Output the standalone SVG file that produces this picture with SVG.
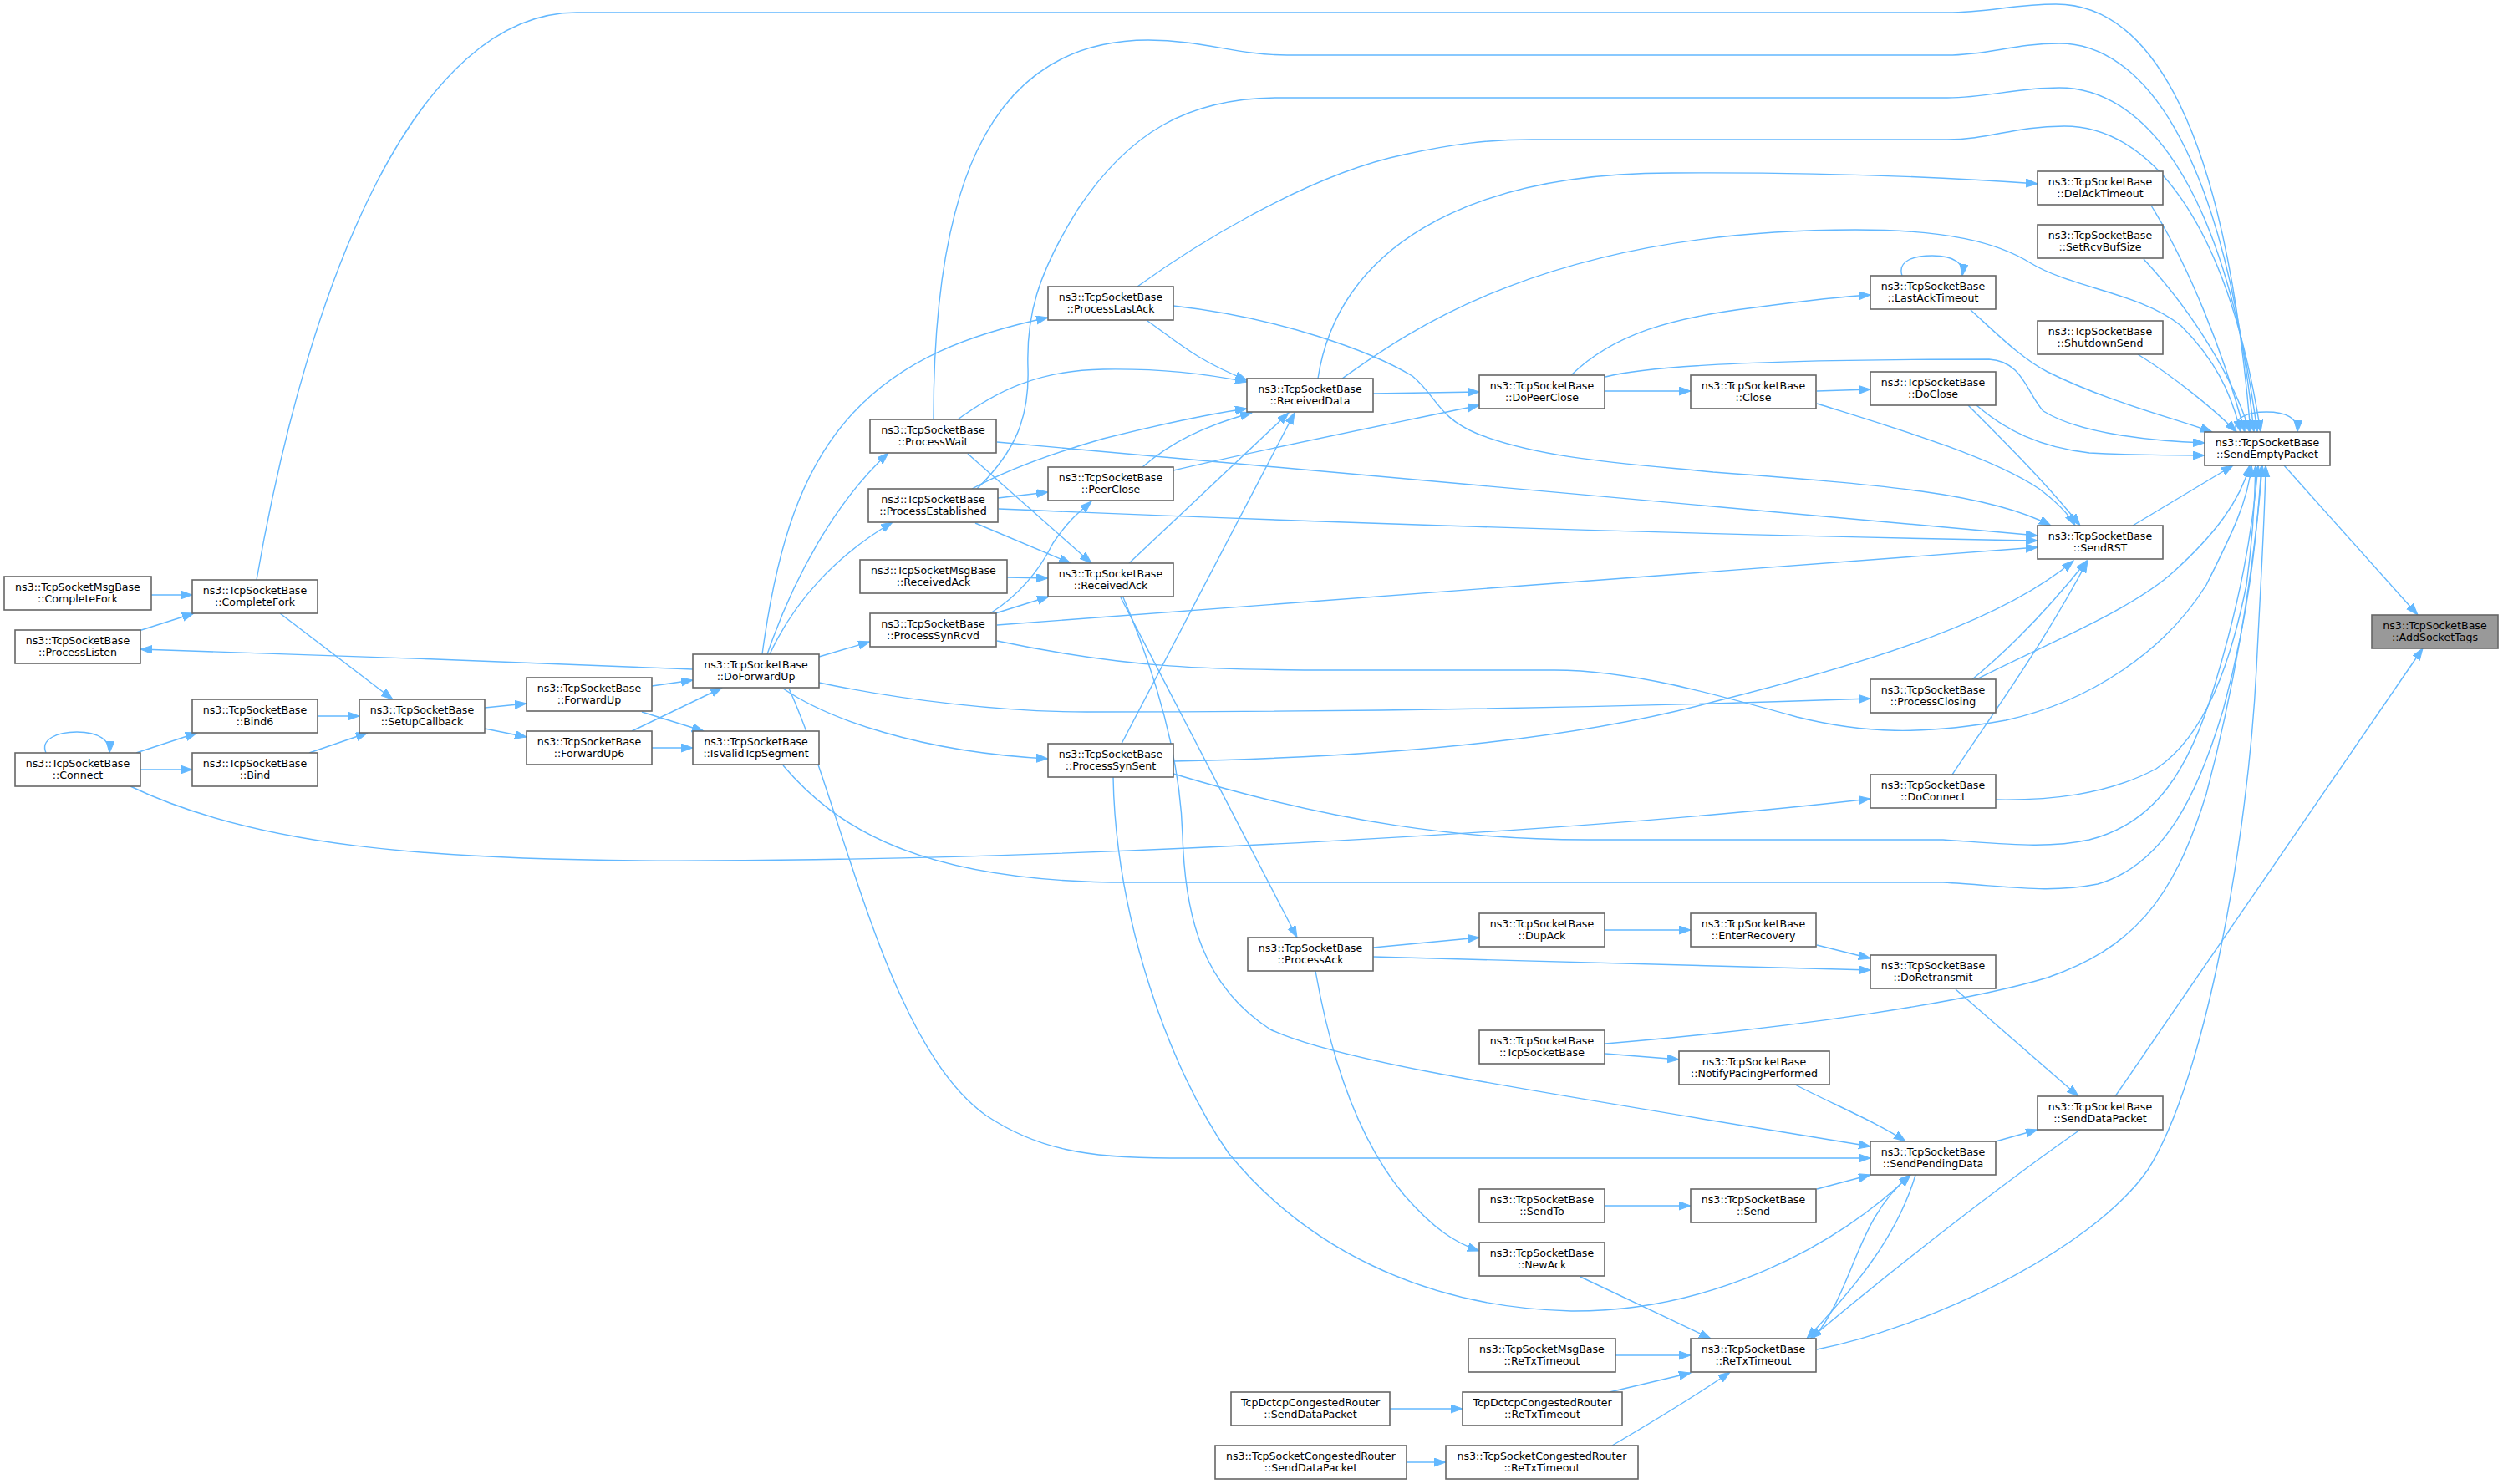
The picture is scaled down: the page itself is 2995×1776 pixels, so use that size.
<svg xmlns="http://www.w3.org/2000/svg" width="2995" height="1776" viewBox="0 0 2995 1776">
<style>
.node rect{fill:#ffffff;stroke:#666666;stroke-width:1.6}
.root rect{fill:#999999;stroke:#666666;stroke-width:1.6}
text{font-family:"DejaVu Sans","Liberation Sans",sans-serif;font-size:12.6px;text-anchor:middle;fill:#000000}
.e{fill:none;stroke:#63b8ff;stroke-width:1.4;marker-end:url(#a)}
</style>
<defs>
<marker id="a" markerUnits="userSpaceOnUse" markerWidth="16" markerHeight="12" refX="14" refY="5" orient="auto">
<path d="M0,0 L14,5 L0,10 z" fill="#63b8ff" stroke="#63b8ff" stroke-width="1"/>
</marker>
</defs>
<rect width="2995" height="1776" fill="#ffffff"/>
<g id="edges">
<path class="e" d="M181,712 L230,712"/>
<path class="e" d="M166,755 L232,734"/>
<path class="e" d="M335,734 L470,837"/>
<path class="e" d="M307,694 C370,330 500,15 690,15 L2330,15 C2380,15 2410,5 2460,5 C2560,5 2660,120 2693,517"/>
<path class="e" d="M829,801 C600,791 400,785 168,777"/>
<path class="e" d="M55,901 C48,885 68,876 92,876 C118,876 132,886 131,901"/>
<path class="e" d="M163,901 L236,877"/>
<path class="e" d="M168,921 L230,921"/>
<path class="e" d="M380,857 L430,857"/>
<path class="e" d="M370,901 L440,877"/>
<path class="e" d="M580,847 L630,842"/>
<path class="e" d="M580,872 L630,882"/>
<path class="e" d="M780,821 L829,814"/>
<path class="e" d="M756,875 L864,823"/>
<path class="e" d="M768,852 L842,875"/>
<path class="e" d="M780,895 L829,895"/>
<path class="e" d="M156,941 C300,1010 500,1032 850,1030 C1300,1028 1900,995 2238,956"/>
<path class="e" d="M937,916 C1000,990 1100,1056 1350,1056 L2325,1056 C2400,1060 2450,1070 2510,1058 C2590,1035 2630,950 2660,850 C2690,740 2700,650 2706,557"/>
<path class="e" d="M918,783 C950,690 1000,600 1063,542"/>
<path class="e" d="M921,783 C950,720 1000,665 1068,625"/>
<path class="e" d="M980,786 L1041,768"/>
<path class="e" d="M937,824 C990,860 1100,900 1254,908"/>
<path class="e" d="M980,817 C1080,838 1200,852 1300,852 C1600,852 1900,848 2238,836"/>
<path class="e" d="M912,783 C930,650 960,560 1020,495 C1080,430 1160,400 1254,380"/>
<path class="e" d="M944,824 C1010,970 1060,1250 1180,1335 C1240,1375 1300,1386 1400,1386 L2238,1386"/>
<path class="e" d="M1117,502 C1117,250 1170,48 1374,48 C1440,48 1480,66 1540,66 L2330,66 C2380,66 2410,52 2464,52 C2560,52 2660,170 2697,517"/>
<path class="e" d="M1169,585 C1215,540 1232,500 1230,440 C1228,380 1240,330 1290,250 C1350,160 1420,117 1530,117 L2330,117 C2380,117 2410,105 2464,105 C2560,105 2660,210 2701,517"/>
<path class="e" d="M1361,343 C1420,300 1560,210 1680,185 C1740,172 1780,167 1833,167 L2330,167 C2380,167 2410,151 2470,151 C2570,151 2665,260 2705,517"/>
<path class="e" d="M1606,453 C1680,400 1850,275 2220,275 C2330,275 2390,290 2430,315 C2480,345 2560,350 2610,390 C2650,430 2670,470 2681,517"/>
<path class="e" d="M1577,453 C1600,300 1750,207 2000,207 C2150,206 2300,210 2438,220"/>
<path class="e" d="M1643,471 L1770,469"/>
<path class="e" d="M1373,384 C1410,410 1430,430 1492,455"/>
<path class="e" d="M1146,502 C1190,470 1240,443 1320,442 C1390,441 1440,447 1492,457"/>
<path class="e" d="M1163,585 C1200,565 1250,545 1320,525 C1400,505 1450,495 1492,489"/>
<path class="e" d="M1367,559 C1400,530 1440,510 1498,494"/>
<path class="e" d="M1351,674 L1542,494"/>
<path class="e" d="M1342,890 L1549,494"/>
<path class="e" d="M1194,596 L1254,589"/>
<path class="e" d="M1185,734 C1215,715 1240,690 1260,650 C1280,620 1295,610 1306,600"/>
<path class="e" d="M1404,563 C1500,540 1650,510 1770,485"/>
<path class="e" d="M1158,543 L1306,674"/>
<path class="e" d="M1167,626 L1281,674"/>
<path class="e" d="M1205,691 L1254,692"/>
<path class="e" d="M1191,734 L1255,714"/>
<path class="e" d="M1341,715 L1552,1122"/>
<path class="e" d="M1344,715 C1380,800 1412,900 1415,1000 C1418,1100 1440,1180 1520,1232 C1600,1270 1800,1300 2238,1372"/>
<path class="e" d="M1332,930 C1335,1100 1400,1280 1470,1380 C1560,1490 1700,1565 1880,1569 C2050,1570 2200,1490 2286,1406"/>
<path class="e" d="M1643,1134 L1770,1122"/>
<path class="e" d="M1643,1145 C1900,1152 2100,1158 2238,1161"/>
<path class="e" d="M1921,1113 L2023,1113"/>
<path class="e" d="M2174,1131 L2238,1147"/>
<path class="e" d="M2340,1184 L2487,1312"/>
<path class="e" d="M1921,1261 L2009,1268"/>
<path class="e" d="M1921,1249 C2150,1230 2350,1200 2450,1170 C2550,1135 2600,1080 2640,950 C2680,800 2700,650 2707,557"/>
<path class="e" d="M2148,1298 C2190,1320 2250,1345 2280,1366"/>
<path class="e" d="M2388,1366 L2438,1352"/>
<path class="e" d="M1920,1443 L2023,1443"/>
<path class="e" d="M2174,1423 L2238,1406"/>
<path class="e" d="M1891,1528 L2047,1602"/>
<path class="e" d="M1574,1162 C1595,1280 1630,1370 1680,1430 C1715,1470 1740,1487 1770,1497"/>
<path class="e" d="M2170,1602 C2220,1540 2220,1460 2286,1406"/>
<path class="e" d="M2292,1406 C2270,1480 2220,1540 2162,1602"/>
<path class="e" d="M2489,1352 C2420,1400 2300,1490 2166,1602"/>
<path class="e" d="M2174,1615 C2300,1590 2500,1500 2570,1400 C2640,1290 2690,1000 2700,800 C2706,680 2710,620 2711,557"/>
<path class="e" d="M1933,1622 L2023,1622"/>
<path class="e" d="M1926,1666 L2023,1643"/>
<path class="e" d="M1663,1686 L1750,1686"/>
<path class="e" d="M1929,1730 C1980,1700 2030,1670 2070,1642"/>
<path class="e" d="M1683,1750 L1730,1750"/>
<path class="e" d="M2531,1312 L2899,776"/>
<path class="e" d="M2733,557 L2893,736"/>
<path class="e" d="M1921,468 L2023,468"/>
<path class="e" d="M1921,451 C1970,438 2100,430 2380,430 C2420,432 2425,470 2445,492 C2490,520 2580,528 2638,530"/>
<path class="e" d="M1880,449 C1930,400 2000,380 2100,368 C2160,360 2200,355 2238,353"/>
<path class="e" d="M2276,330 C2270,312 2290,306 2312,306 C2340,306 2350,316 2348,330"/>
<path class="e" d="M2358,371 C2390,400 2420,430 2450,445 C2520,480 2600,500 2647,517"/>
<path class="e" d="M2574,246 C2620,320 2660,420 2686,517"/>
<path class="e" d="M2565,310 C2630,380 2675,460 2692,517"/>
<path class="e" d="M2558,424 C2600,450 2650,490 2676,517"/>
<path class="e" d="M2174,468 L2238,466"/>
<path class="e" d="M2174,483 C2260,510 2380,545 2440,585 C2460,600 2475,615 2483,629"/>
<path class="e" d="M2365,485 C2400,515 2440,535 2500,542 C2560,545 2600,545 2638,545"/>
<path class="e" d="M2355,485 C2400,530 2450,580 2489,629"/>
<path class="e" d="M2676,517 C2670,500 2690,493 2712,493 C2735,493 2750,500 2749,517"/>
<path class="e" d="M2552,629 L2672,557"/>
<path class="e" d="M1193,529 L2438,641"/>
<path class="e" d="M1195,609 C1500,622 2000,640 2438,647"/>
<path class="e" d="M1193,748 L2438,655"/>
<path class="e" d="M1404,366 C1530,380 1640,420 1690,450 C1720,475 1720,500 1770,520 C1850,550 1950,555 2050,565 C2250,580 2380,590 2454,629"/>
<path class="e" d="M1404,911 C1700,905 1900,880 2050,840 C2250,790 2400,740 2481,671"/>
<path class="e" d="M2360,813 C2400,780 2450,730 2497,671"/>
<path class="e" d="M2336,927 C2380,860 2440,780 2498,671"/>
<path class="e" d="M2365,813 C2450,770 2550,730 2600,685 C2650,640 2680,600 2692,557"/>
<path class="e" d="M2388,957 C2450,958 2520,952 2580,920 C2640,880 2670,790 2688,700 C2695,650 2698,600 2699,557"/>
<path class="e" d="M1193,767 C1350,800 1450,802 1600,802 L1860,802 C1950,802 2050,830 2150,858 C2230,878 2300,880 2400,862 C2500,840 2590,780 2640,700 C2670,640 2690,600 2694,557"/>
<path class="e" d="M1404,926 C1600,985 1750,1005 1900,1005 L2325,1005 C2400,1010 2450,1016 2500,1005 C2580,985 2620,920 2650,820 C2680,720 2695,640 2702,557"/>
</g>
<g id="n_msgCompleteFork" class="node"><rect x="5" y="690" width="176" height="40"/><text x="93" y="706.5">ns3::TcpSocketMsgBase</text><text x="93" y="720.5">::CompleteFork</text></g>
<g id="n_CompleteFork" class="node"><rect x="230" y="694" width="150" height="40"/><text x="305" y="710.5">ns3::TcpSocketBase</text><text x="305" y="724.5">::CompleteFork</text></g>
<g id="n_ProcessListen" class="node"><rect x="18" y="754" width="150" height="40"/><text x="93" y="770.5">ns3::TcpSocketBase</text><text x="93" y="784.5">::ProcessListen</text></g>
<g id="n_Connect" class="node"><rect x="18" y="901" width="150" height="40"/><text x="93" y="917.5">ns3::TcpSocketBase</text><text x="93" y="931.5">::Connect</text></g>
<g id="n_Bind6" class="node"><rect x="230" y="837" width="150" height="40"/><text x="305" y="853.5">ns3::TcpSocketBase</text><text x="305" y="867.5">::Bind6</text></g>
<g id="n_Bind" class="node"><rect x="230" y="901" width="150" height="40"/><text x="305" y="917.5">ns3::TcpSocketBase</text><text x="305" y="931.5">::Bind</text></g>
<g id="n_SetupCallback" class="node"><rect x="430" y="837" width="150" height="40"/><text x="505" y="853.5">ns3::TcpSocketBase</text><text x="505" y="867.5">::SetupCallback</text></g>
<g id="n_ForwardUp" class="node"><rect x="630" y="811" width="150" height="40"/><text x="705" y="827.5">ns3::TcpSocketBase</text><text x="705" y="841.5">::ForwardUp</text></g>
<g id="n_ForwardUp6" class="node"><rect x="630" y="875" width="150" height="40"/><text x="705" y="891.5">ns3::TcpSocketBase</text><text x="705" y="905.5">::ForwardUp6</text></g>
<g id="n_DoForwardUp" class="node"><rect x="829" y="783" width="151" height="40"/><text x="904.5" y="799.5">ns3::TcpSocketBase</text><text x="904.5" y="813.5">::DoForwardUp</text></g>
<g id="n_IsValidTcpSegment" class="node"><rect x="829" y="875" width="151" height="40"/><text x="904.5" y="891.5">ns3::TcpSocketBase</text><text x="904.5" y="905.5">::IsValidTcpSegment</text></g>
<g id="n_ProcessWait" class="node"><rect x="1041" y="502" width="151" height="40"/><text x="1116.5" y="518.5">ns3::TcpSocketBase</text><text x="1116.5" y="532.5">::ProcessWait</text></g>
<g id="n_ProcessEstablished" class="node"><rect x="1039" y="585" width="155" height="40"/><text x="1116.5" y="601.5">ns3::TcpSocketBase</text><text x="1116.5" y="615.5">::ProcessEstablished</text></g>
<g id="n_msgReceivedAck" class="node"><rect x="1029" y="670" width="176" height="40"/><text x="1117" y="686.5">ns3::TcpSocketMsgBase</text><text x="1117" y="700.5">::ReceivedAck</text></g>
<g id="n_ProcessSynRcvd" class="node"><rect x="1041" y="734" width="151" height="40"/><text x="1116.5" y="750.5">ns3::TcpSocketBase</text><text x="1116.5" y="764.5">::ProcessSynRcvd</text></g>
<g id="n_ProcessLastAck" class="node"><rect x="1254" y="343" width="150" height="40"/><text x="1329" y="359.5">ns3::TcpSocketBase</text><text x="1329" y="373.5">::ProcessLastAck</text></g>
<g id="n_PeerClose" class="node"><rect x="1254" y="559" width="150" height="40"/><text x="1329" y="575.5">ns3::TcpSocketBase</text><text x="1329" y="589.5">::PeerClose</text></g>
<g id="n_ReceivedAck" class="node"><rect x="1254" y="674" width="150" height="40"/><text x="1329" y="690.5">ns3::TcpSocketBase</text><text x="1329" y="704.5">::ReceivedAck</text></g>
<g id="n_ProcessSynSent" class="node"><rect x="1254" y="890" width="150" height="40"/><text x="1329" y="906.5">ns3::TcpSocketBase</text><text x="1329" y="920.5">::ProcessSynSent</text></g>
<g id="n_ReceivedData" class="node"><rect x="1492" y="453" width="151" height="40"/><text x="1567.5" y="469.5">ns3::TcpSocketBase</text><text x="1567.5" y="483.5">::ReceivedData</text></g>
<g id="n_ProcessAck" class="node"><rect x="1493" y="1122" width="150" height="40"/><text x="1568" y="1138.5">ns3::TcpSocketBase</text><text x="1568" y="1152.5">::ProcessAck</text></g>
<g id="n_DoPeerClose" class="node"><rect x="1770" y="449" width="150" height="40"/><text x="1845" y="465.5">ns3::TcpSocketBase</text><text x="1845" y="479.5">::DoPeerClose</text></g>
<g id="n_DupAck" class="node"><rect x="1770" y="1093" width="150" height="40"/><text x="1845" y="1109.5">ns3::TcpSocketBase</text><text x="1845" y="1123.5">::DupAck</text></g>
<g id="n_TcpSocketBase" class="node"><rect x="1770" y="1233" width="150" height="40"/><text x="1845" y="1249.5">ns3::TcpSocketBase</text><text x="1845" y="1263.5">::TcpSocketBase</text></g>
<g id="n_SendTo" class="node"><rect x="1770" y="1423" width="150" height="40"/><text x="1845" y="1439.5">ns3::TcpSocketBase</text><text x="1845" y="1453.5">::SendTo</text></g>
<g id="n_NewAck" class="node"><rect x="1770" y="1487" width="150" height="40"/><text x="1845" y="1503.5">ns3::TcpSocketBase</text><text x="1845" y="1517.5">::NewAck</text></g>
<g id="n_msgReTxTimeout" class="node"><rect x="1757" y="1602" width="176" height="40"/><text x="1845" y="1618.5">ns3::TcpSocketMsgBase</text><text x="1845" y="1632.5">::ReTxTimeout</text></g>
<g id="n_dctcpReTxTimeout" class="node"><rect x="1750" y="1666" width="191" height="40"/><text x="1845.5" y="1682.5">TcpDctcpCongestedRouter</text><text x="1845.5" y="1696.5">::ReTxTimeout</text></g>
<g id="n_congReTxTimeout" class="node"><rect x="1730" y="1730" width="230" height="40"/><text x="1845" y="1746.5">ns3::TcpSocketCongestedRouter</text><text x="1845" y="1760.5">::ReTxTimeout</text></g>
<g id="n_dctcpSendDataPacket" class="node"><rect x="1473" y="1666" width="190" height="40"/><text x="1568" y="1682.5">TcpDctcpCongestedRouter</text><text x="1568" y="1696.5">::SendDataPacket</text></g>
<g id="n_congSendDataPacket" class="node"><rect x="1454" y="1730" width="229" height="40"/><text x="1568.5" y="1746.5">ns3::TcpSocketCongestedRouter</text><text x="1568.5" y="1760.5">::SendDataPacket</text></g>
<g id="n_Close" class="node"><rect x="2023" y="449" width="150" height="40"/><text x="2098" y="465.5">ns3::TcpSocketBase</text><text x="2098" y="479.5">::Close</text></g>
<g id="n_EnterRecovery" class="node"><rect x="2023" y="1093" width="150" height="40"/><text x="2098" y="1109.5">ns3::TcpSocketBase</text><text x="2098" y="1123.5">::EnterRecovery</text></g>
<g id="n_NotifyPacingPerformed" class="node"><rect x="2009" y="1258" width="180" height="40"/><text x="2099" y="1274.5">ns3::TcpSocketBase</text><text x="2099" y="1288.5">::NotifyPacingPerformed</text></g>
<g id="n_Send" class="node"><rect x="2023" y="1423" width="150" height="40"/><text x="2098" y="1439.5">ns3::TcpSocketBase</text><text x="2098" y="1453.5">::Send</text></g>
<g id="n_ReTxTimeout" class="node"><rect x="2023" y="1602" width="150" height="40"/><text x="2098" y="1618.5">ns3::TcpSocketBase</text><text x="2098" y="1632.5">::ReTxTimeout</text></g>
<g id="n_LastAckTimeout" class="node"><rect x="2238" y="330" width="150" height="40"/><text x="2313" y="346.5">ns3::TcpSocketBase</text><text x="2313" y="360.5">::LastAckTimeout</text></g>
<g id="n_DoClose" class="node"><rect x="2238" y="445" width="150" height="40"/><text x="2313" y="461.5">ns3::TcpSocketBase</text><text x="2313" y="475.5">::DoClose</text></g>
<g id="n_ProcessClosing" class="node"><rect x="2238" y="813" width="150" height="40"/><text x="2313" y="829.5">ns3::TcpSocketBase</text><text x="2313" y="843.5">::ProcessClosing</text></g>
<g id="n_DoConnect" class="node"><rect x="2238" y="927" width="150" height="40"/><text x="2313" y="943.5">ns3::TcpSocketBase</text><text x="2313" y="957.5">::DoConnect</text></g>
<g id="n_DoRetransmit" class="node"><rect x="2238" y="1143" width="150" height="40"/><text x="2313" y="1159.5">ns3::TcpSocketBase</text><text x="2313" y="1173.5">::DoRetransmit</text></g>
<g id="n_SendPendingData" class="node"><rect x="2238" y="1366" width="150" height="40"/><text x="2313" y="1382.5">ns3::TcpSocketBase</text><text x="2313" y="1396.5">::SendPendingData</text></g>
<g id="n_DelAckTimeout" class="node"><rect x="2438" y="205" width="150" height="40"/><text x="2513" y="221.5">ns3::TcpSocketBase</text><text x="2513" y="235.5">::DelAckTimeout</text></g>
<g id="n_SetRcvBufSize" class="node"><rect x="2438" y="269" width="150" height="40"/><text x="2513" y="285.5">ns3::TcpSocketBase</text><text x="2513" y="299.5">::SetRcvBufSize</text></g>
<g id="n_ShutdownSend" class="node"><rect x="2438" y="384" width="150" height="40"/><text x="2513" y="400.5">ns3::TcpSocketBase</text><text x="2513" y="414.5">::ShutdownSend</text></g>
<g id="n_SendRST" class="node"><rect x="2438" y="629" width="150" height="40"/><text x="2513" y="645.5">ns3::TcpSocketBase</text><text x="2513" y="659.5">::SendRST</text></g>
<g id="n_SendDataPacket" class="node"><rect x="2438" y="1312" width="150" height="40"/><text x="2513" y="1328.5">ns3::TcpSocketBase</text><text x="2513" y="1342.5">::SendDataPacket</text></g>
<g id="n_SendEmptyPacket" class="node"><rect x="2638" y="517" width="150" height="40"/><text x="2713" y="533.5">ns3::TcpSocketBase</text><text x="2713" y="547.5">::SendEmptyPacket</text></g>
<g id="n_AddSocketTags" class="root"><rect x="2838" y="736" width="151" height="40"/><text x="2913.5" y="752.5">ns3::TcpSocketBase</text><text x="2913.5" y="766.5">::AddSocketTags</text></g>
</svg>
